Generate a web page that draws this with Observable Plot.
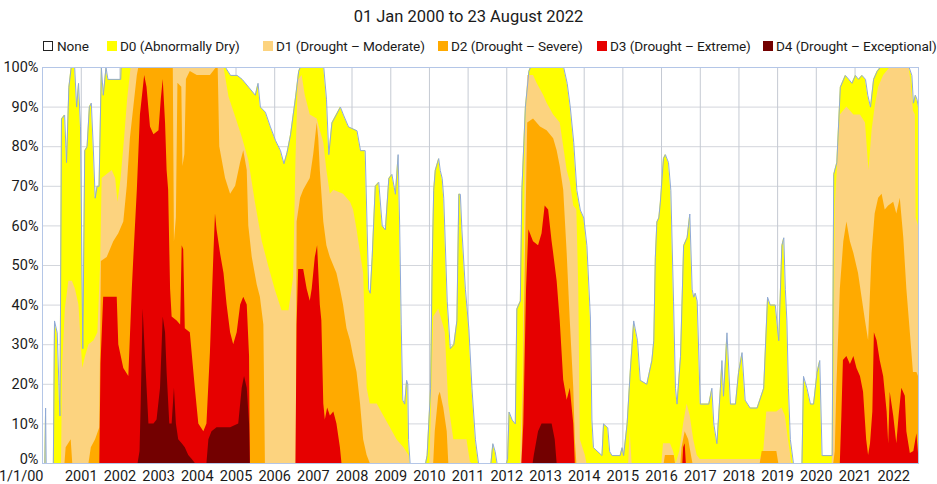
<!DOCTYPE html>
<html>
<head>
<meta charset="utf-8">
<script src="https://cdn.jsdelivr.net/npm/d3@7"></script>
<script src="https://cdn.jsdelivr.net/npm/@observablehq/plot@0.6"></script>
<style>
  html, body { margin: 0; padding: 0; background: #fff; }
  body { width: 937px; height: 484px; position: relative; overflow: hidden;
         font-family: Roboto, sans-serif; color: #1a1a1a; }
  #title { position: absolute; top: 7px; left: 0; width: 937px; text-align: center; font-size: 16.5px; line-height: 20px; }
  .item { position: absolute; top: 36px; height: 20px; display: flex; align-items: center; white-space: nowrap; font-size: 13.6px; letter-spacing: -0.1px; }
  .sw { width: 10px; height: 10px; margin-right: 3px; display: inline-block; box-sizing: border-box; }
  #chart { position: absolute; top: 56px; left: 0; }
</style>
</head>
<body>
<div id="title"></div>
<div id="legend"></div>
<div id="chart"></div>
<script>
const titleText = "01 Jan 2000 to 23 August 2022";
const categories = ["None", "D0 (Abnormally Dry)", "D1 (Drought – Moderate)", "D2 (Drought – Severe)", "D3 (Drought – Extreme)", "D4 (Drought – Exceptional)"];
const colors = ["#ffffff", "#ffff00", "#fcd37f", "#ffaa00", "#e60000", "#730000"];
const legendLeft = [43, 107, 263, 438, 597, 763];
const xTickYears = [2000,2001,2002,2003,2004,2005,2006,2007,2008,2009,2010,2011,2012,2013,2014,2015,2016,2017,2018,2019,2020,2021,2022];
const xTickLabels = ["1/1/00","2001","2002","2003","2004","2005","2006","2007","2008","2009","2010","2011","2012","2013","2014","2015","2016","2017","2018","2019","2020","2021","2022"];
const yTicks = [0,10,20,30,40,50,60,70,80,90,100];
const endDate = "2022-08-23";

// cumulative percent of area, [decimal year, percent]
const d0 = [[2000.00,0],[2000.06,0],[2000.08,14],[2000.095,0],[2000.28,0],[2000.31,36],[2000.38,33],[2000.45,12],[2000.49,87],[2000.57,88],[2000.62,76],[2000.68,95],[2000.74,100],[2000.83,100],[2000.88,90],[2000.93,96],[2000.98,85],[2001.04,29],[2001.09,79],[2001.15,80],[2001.21,90],[2001.26,91],[2001.31,80],[2001.36,67],[2001.41,70],[2001.46,70],[2001.52,100],[2001.57,93],[2001.64,100],[2001.69,97],[2002.02,97],[2002.03,100],[2004.73,100],[2004.86,98],[2005.03,98],[2005.16,97],[2005.33,95],[2005.50,93],[2005.57,96],[2005.63,90],[2005.76,88.7],[2005.89,85],[2006.02,81.6],[2006.15,79],[2006.24,75.7],[2006.32,78.5],[2006.41,83],[2006.54,92.5],[2006.62,99],[2006.66,100],[2007.27,100],[2007.34,92],[2007.40,78],[2007.48,86],[2007.70,90],[2007.78,88],[2007.91,85],[2008.13,84],[2008.22,79],[2008.34,79],[2008.43,44],[2008.47,43],[2008.52,52],[2008.60,70],[2008.69,71],[2008.78,60],[2008.86,59],[2008.95,72],[2009.03,73],[2009.12,68],[2009.19,78],[2009.23,60],[2009.27,35],[2009.31,16],[2009.36,15],[2009.41,21],[2009.44,20],[2009.46,6],[2009.50,0],[2009.90,0],[2009.94,2],[2010.03,19],[2010.07,50],[2010.11,69],[2010.15,74],[2010.24,77],[2010.28,74],[2010.33,72],[2010.37,67],[2010.46,41],[2010.54,29],[2010.63,30],[2010.71,36],[2010.76,68],[2010.80,68],[2010.84,59],[2010.93,44],[2011.02,34],[2011.10,19],[2011.19,6],[2011.27,0],[2011.59,0],[2011.64,5],[2011.70,3],[2011.75,0],[2011.99,0],[2012.02,1],[2012.06,13],[2012.14,11],[2012.22,10],[2012.26,39],[2012.35,41],[2012.39,69],[2012.48,90],[2012.57,99],[2012.61,100],[2013.47,100],[2013.56,96],[2013.64,90],[2013.73,81],[2013.81,69],[2013.90,64],[2013.99,62],[2014.07,55],[2014.16,37],[2014.20,11],[2014.24,4],[2014.46,2],[2014.50,10],[2014.61,9],[2014.66,3],[2014.72,2],[2014.93,2],[2014.98,4],[2015.02,2],[2015.11,10],[2015.19,23],[2015.28,36],[2015.32,34],[2015.38,31],[2015.45,21],[2015.62,20],[2015.75,26],[2015.80,31],[2015.84,52],[2015.88,61],[2015.93,62],[2015.97,66],[2016.05,77],[2016.10,78],[2016.18,76],[2016.24,69],[2016.31,41],[2016.36,19],[2016.40,15],[2016.49,27],[2016.57,55],[2016.66,57],[2016.73,63],[2016.79,44],[2016.83,42],[2016.87,43],[2016.92,41],[2017.00,15],[2017.22,15],[2017.30,19],[2017.35,10],[2017.43,5],[2017.52,19],[2017.56,26],[2017.60,17],[2017.69,33],[2017.78,15],[2017.91,15],[2017.99,23],[2018.08,28],[2018.16,16],[2018.29,14],[2018.47,14],[2018.64,19],[2018.74,42],[2018.81,40],[2018.94,40],[2019.03,31],[2019.11,55],[2019.16,57],[2019.20,44],[2019.24,36],[2019.28,19],[2019.33,6],[2019.41,0],[2019.63,0],[2019.67,22],[2019.76,19],[2019.85,15],[2019.93,15],[2020.02,23],[2020.09,26],[2020.15,2],[2020.41,2],[2020.45,73],[2020.53,76],[2020.62,95],[2020.75,98],[2020.84,97],[2020.92,96],[2021.01,98],[2021.09,97],[2021.18,98],[2021.27,97],[2021.33,93],[2021.40,90],[2021.48,97],[2021.57,99],[2021.65,100],[2022.40,100],[2022.47,98],[2022.51,91],[2022.56,93],[2022.60,92],[2022.64,90]];

const d1 = [[2000.00,0],[2000.49,0],[2000.52,25],[2000.59,39],[2000.68,46],[2000.77,46],[2000.85,44],[2000.94,40],[2001.00,30],[2001.04,24],[2001.11,27],[2001.20,30],[2001.33,31],[2001.43,33],[2001.50,50],[2001.54,72],[2001.67,73],[2001.80,74],[2001.89,72],[2001.95,66],[2002.03,72],[2002.12,82],[2002.20,92],[2002.29,100],[2004.69,100],[2004.82,92.5],[2004.99,87.5],[2005.16,82.4],[2005.33,76.5],[2005.50,66],[2005.68,56],[2005.85,49.6],[2006.02,43.7],[2006.19,38.6],[2006.37,38.6],[2006.49,47],[2006.55,76.5],[2006.61,96.7],[2006.71,98],[2006.79,93],[2006.92,88],[2007.10,87],[2007.18,84],[2007.27,81],[2007.35,74],[2007.44,68],[2007.53,69],[2007.78,68],[2007.96,66],[2008.04,64],[2008.13,59],[2008.22,53],[2008.30,48],[2008.39,19],[2008.47,15],[2008.65,15],[2008.82,12],[2008.99,9],[2009.16,6],[2009.34,4],[2009.47,2],[2009.49,0],[2010.01,0],[2010.04,10],[2010.11,37],[2010.24,39],[2010.33,36],[2010.41,33],[2010.50,15],[2010.63,6],[2010.97,6],[2011.06,0.3],[2011.10,0],[2012.35,0],[2012.42,20],[2012.48,82],[2012.54,98],[2012.69,98],[2012.78,96],[2012.95,93],[2013.04,91],[2013.21,88],[2013.38,86],[2013.47,80],[2013.56,74],[2013.64,71],[2013.73,65],[2013.81,64],[2013.86,44],[2013.90,6],[2014.03,2],[2014.07,0],[2015.15,0],[2015.19,8],[2015.24,0],[2016.01,0],[2016.05,5],[2016.23,5],[2016.31,3],[2016.38,0],[2016.47,3],[2016.57,10],[2016.66,15],[2016.74,12],[2016.83,6],[2016.92,2],[2017.00,1],[2018.55,1],[2018.64,3],[2018.72,13],[2018.98,13],[2019.11,14],[2019.20,12],[2019.28,6],[2019.37,0],[2020.41,0],[2020.45,10],[2020.49,65],[2020.53,72],[2020.62,88],[2020.79,90],[2020.97,88],[2021.14,88],[2021.27,86],[2021.36,74],[2021.44,84],[2021.52,90],[2021.61,95],[2021.74,98],[2021.91,100],[2022.40,100],[2022.45,96],[2022.51,89],[2022.56,88],[2022.58,62],[2022.64,60]];

const d2 = [[2000.00,0],[2000.58,0],[2000.61,4],[2000.74,6],[2000.78,0],[2001.20,0],[2001.26,4],[2001.37,6],[2001.48,9],[2001.52,51],[2001.67,52],[2001.84,56],[2001.97,58],[2002.10,61],[2002.19,70],[2002.27,82],[2002.36,90],[2002.45,98],[2002.49,100],[2003.38,100],[2003.41,56],[2003.46,62],[2003.50,96],[2003.60,95],[2003.63,75],[2003.68,78],[2003.72,97],[2003.82,99],[2004.00,98],[2004.34,98],[2004.50,100],[2004.54,100],[2004.58,80],[2004.73,72],[2004.86,68],[2004.99,70],[2005.12,76],[2005.20,79],[2005.29,74],[2005.33,60],[2005.42,52],[2005.55,45],[2005.63,42],[2005.72,35],[2005.76,0],[2006.56,0],[2006.58,61],[2006.67,67],[2006.75,69],[2006.92,72],[2007.01,78],[2007.10,86],[2007.14,82],[2007.18,74],[2007.27,61],[2007.35,55],[2007.44,52],[2007.61,48],[2007.70,44],[2007.78,40],[2007.87,34],[2007.96,31],[2008.04,27],[2008.13,23],[2008.22,15],[2008.30,6],[2008.39,2],[2008.47,0],[2010.11,0],[2010.15,8],[2010.24,17],[2010.28,18],[2010.37,14],[2010.46,8],[2010.50,0],[2012.39,0],[2012.44,25],[2012.48,52],[2012.54,86],[2012.69,87],[2012.87,85],[2013.04,84],[2013.21,82],[2013.30,79],[2013.38,75],[2013.47,69],[2013.56,53],[2013.64,36],[2013.73,19],[2013.77,6],[2013.81,0],[2016.07,0],[2016.10,2],[2016.33,2],[2016.36,0],[2016.50,0],[2016.53,4],[2016.61,8],[2016.70,6],[2016.79,1],[2016.81,0],[2018.55,0],[2018.60,3],[2018.98,3],[2019.03,0],[2020.45,0],[2020.49,3],[2020.53,19],[2020.62,44],[2020.71,56],[2020.79,61],[2020.88,56],[2020.97,53],[2021.09,48],[2021.18,42],[2021.27,36],[2021.35,31],[2021.44,53],[2021.52,63],[2021.61,67],[2021.70,68],[2021.78,64],[2021.87,65],[2022.00,66],[2022.08,63],[2022.17,67],[2022.26,57],[2022.34,44],[2022.43,33],[2022.51,23],[2022.60,23],[2022.64,22]];

const d3 = [[2000.00,0],[2001.48,0],[2001.51,25],[2001.58,42],[2001.93,42],[2001.97,30],[2002.10,24],[2002.23,22],[2002.32,44],[2002.36,52],[2002.45,69],[2002.53,88],[2002.64,98],[2002.70,95],[2002.79,85],[2002.88,83],[2003.01,84],[2003.07,92],[2003.12,97],[2003.18,86],[2003.22,74],[2003.26,69],[2003.31,44],[2003.35,37],[2003.48,36],[2003.57,35],[2003.61,55],[2003.65,54],[2003.69,34],[2003.82,33],[2003.95,19],[2004.04,10],[2004.17,8],[2004.25,10],[2004.34,28],[2004.43,53],[2004.47,63],[2004.51,59],[2004.60,53],[2004.69,48],[2004.77,40],[2004.86,33],[2004.94,30],[2005.03,33],[2005.12,40],[2005.20,42],[2005.29,40],[2005.35,27],[2005.37,0],[2006.55,0],[2006.58,35],[2006.62,49],[2006.75,49],[2006.84,44],[2006.92,41],[2006.97,44],[2007.05,52],[2007.11,55],[2007.18,40],[2007.22,36],[2007.27,15],[2007.31,11],[2007.37,14],[2007.44,12],[2007.53,13],[2007.61,10],[2007.70,4],[2007.74,0],[2012.39,0],[2012.44,10],[2012.51,44],[2012.57,59],[2012.69,56],[2012.82,55],[2012.91,58],[2012.99,65],[2013.08,64],[2013.17,56],[2013.21,53],[2013.30,46],[2013.38,36],[2013.47,21],[2013.56,16],[2013.64,19],[2013.73,10],[2013.77,0],[2016.55,0],[2016.57,4],[2016.61,5],[2016.64,0],[2020.62,0],[2020.66,12],[2020.70,26],[2020.79,27],[2020.88,25],[2020.97,27],[2021.05,24],[2021.14,22],[2021.22,18],[2021.30,6],[2021.35,2],[2021.40,5],[2021.46,13],[2021.50,33],[2021.57,31],[2021.65,26],[2021.74,22],[2021.83,13],[2021.87,5],[2021.91,18],[2022.00,12],[2022.08,5],[2022.14,12],[2022.21,19],[2022.30,17],[2022.34,8],[2022.43,2.5],[2022.52,3],[2022.60,7.5],[2022.64,2.5]];

const d4 = [[2000.00,0],[2002.47,0],[2002.52,3],[2002.55,15],[2002.60,39],[2002.66,27],[2002.75,10],[2002.88,10],[2002.96,11],[2003.05,19],[2003.12,37],[2003.18,33],[2003.22,23],[2003.29,10],[2003.35,10],[2003.41,19],[2003.46,10],[2003.52,6],[2003.61,5],[2003.69,4],[2003.78,2],[2003.87,1],[2003.95,0],[2004.25,0],[2004.30,6],[2004.38,8],[2004.51,9],[2004.86,9],[2005.07,10],[2005.16,19],[2005.22,22],[2005.29,19],[2005.35,10],[2005.37,0],[2012.68,0],[2012.71,2],[2012.82,8],[2012.91,10],[2012.99,10],[2013.17,10],[2013.25,6],[2013.30,0],[2022.64,0]];

const series = [d0, d1, d2, d3, d4];

function toDate(y) {
  const yr = Math.floor(y);
  const a = Date.UTC(yr, 0, 1), b = Date.UTC(yr + 1, 0, 1);
  return new Date(a + (y - yr) * (b - a));
}
const yearDates = xTickYears.map(y => new Date(Date.UTC(y, 0, 1)));
const labelOf = new Map(yearDates.map((d, i) => [+d, xTickLabels[i]]));

document.getElementById("title").textContent = titleText;
const legend = document.getElementById("legend");
categories.forEach((c, i) => {
  const it = document.createElement("div");
  it.className = "item";
  it.style.left = legendLeft[i] + "px";
  const sw = document.createElement("span");
  sw.className = "sw";
  sw.style.background = colors[i];
  if (i === 0) { sw.style.border = "1px solid #222"; sw.style.marginRight = "4px"; }
  it.appendChild(sw);
  it.appendChild(document.createTextNode(c));
  legend.appendChild(it);
});

const marks = [
  Plot.gridY(yTicks, {stroke: "#d3d6dc", strokeOpacity: 1}),
  Plot.gridX(yearDates, {stroke: "#c5cad3", strokeOpacity: 1})
];
series.forEach((s, i) => {
  marks.push(Plot.areaY(s, {x: d => toDate(d[0]), y1: 0, y2: d => d[1], fill: colors[i + 1], curve: "linear"}));
});
marks.push(Plot.lineY(d0, {x: d => toDate(d[0]), y: d => d[1], stroke: "#8fa9d6", strokeWidth: 1}));
marks.push(Plot.frame({stroke: "#b4c6e7"}));
marks.push(Plot.axisY(yTicks.slice(1), {tickSize: 0, tickPadding: 4, tickFormat: d => d + "%", label: null, fontSize: 14.5}));
marks.push(Plot.axisY(yTicks.slice(0, 1), {tickSize: 0, tickPadding: 4, tickFormat: d => d + "%", label: null, fontSize: 14.5, dy: -4.5}));
marks.push(Plot.axisX(yearDates.slice(1), {tickSize: 0, tickPadding: 7, tickFormat: d => labelOf.get(+d), label: null, fontSize: 14.5}));
marks.push(Plot.axisX(yearDates.slice(0, 1), {tickSize: 0, tickPadding: 7, tickFormat: d => labelOf.get(+d), label: null, fontSize: 14.5, textAnchor: "end", dx: 1}));

const chart = Plot.plot({
  width: 937,
  height: 428,
  marginLeft: 42,
  marginRight: 19,
  marginTop: 11,
  marginBottom: 21,
  x: {type: "utc", domain: [toDate(2000), new Date(endDate + "T00:00:00Z")]},
  y: {domain: [0, 100]},
  style: {fontFamily: "Roboto, sans-serif", fontSize: "14.5px", color: "#1a1a1a", background: "transparent", overflow: "visible"},
  marks
});
document.getElementById("chart").appendChild(chart);
</script>
</body>
</html>
